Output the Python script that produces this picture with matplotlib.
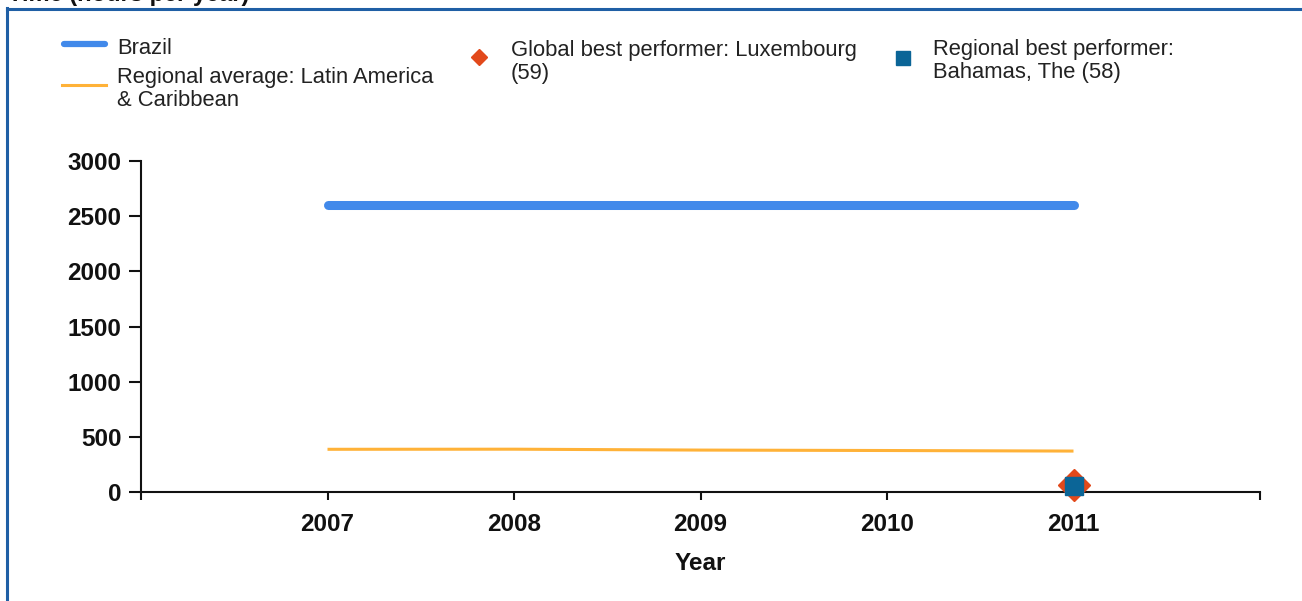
import matplotlib
matplotlib.use("Agg")
import matplotlib.pyplot as plt
from matplotlib.lines import Line2D

plt.rcParams['font.family'] = ['Liberation Sans', 'DejaVu Sans']

# ---- data ----
years = [2007, 2008, 2009, 2010, 2011]
brazil = [2600, 2600, 2600, 2600, 2600]
regional_avg = [387, 388, 380, 376, 371]
global_best_year = [2011]
global_best_value = [59]
regional_best_year = [2011]
regional_best_value = [58]
y_ticks = [0, 500, 1000, 1500, 2000, 2500, 3000]
x_ticks = [2006, 2007, 2008, 2009, 2010, 2011, 2012]
x_tick_labels = ["", "2007", "2008", "2009", "2010", "2011", ""]

labels = ["Brazil", "Regional average: Latin America\n& Caribbean",
          "Global best performer: Luxembourg\n(59)",
          "Regional best performer:\nBahamas, The (58)"]
title = "Time (hours per year)"

W, H = 1302, 601
fig = plt.figure(figsize=(W / 100, H / 100), dpi=100)

def fx(x):
    return x / W

def fy(y):
    return 1 - y / H

BLUE = '#4189ea'
ORANGE = '#ffb238'
RED = '#e2491b'
TEAL = '#0b6597'
TXT = '#222222'

ax = fig.add_axes([fx(141), fy(492), fx(1260) - fx(141), fy(161) - fy(492)])
ax.plot(years, brazil, color=BLUE, lw=6.5, solid_capstyle='round', zorder=3)
ax.plot(years, regional_avg, color=ORANGE, lw=2.2, solid_capstyle='butt', zorder=3)
ax.plot(global_best_year, global_best_value, linestyle='none', marker='D',
        ms=16, color=RED, zorder=4, clip_on=False)
ax.plot(regional_best_year, regional_best_value, linestyle='none', marker='s',
        ms=13.5, color=TEAL, zorder=5, clip_on=False)

ax.set_xlim(2006, 2012)
ax.set_ylim(0, 3000)
ax.set_xticks(x_ticks)
ax.set_xticklabels(x_tick_labels)
ax.set_yticks(y_ticks)
for s in ['top', 'right']:
    ax.spines[s].set_visible(False)
for s in ['left', 'bottom']:
    ax.spines[s].set_linewidth(1.5)
    ax.spines[s].set_color('#111111')
ax.tick_params(axis='x', direction='out', length=6, width=1.5, pad=9,
               labelsize=17.5, colors='#111111')
ax.tick_params(axis='y', direction='out', length=9, width=1.5, pad=5,
               labelsize=17.5, colors='#111111')
for lab in ax.get_xticklabels() + ax.get_yticklabels():
    lab.set_fontweight('bold')
ax.set_xlabel("Year", fontsize=17.5, fontweight='bold', labelpad=12, color='#111111')

# ---- title (cut off at top, as in the reference) ----
fig.text(fx(8), fy(1), title, fontsize=17, fontweight='bold', va='baseline',
         ha='left', color='#111111')

# ---- border ----
fig.add_artist(Line2D([fx(7), fx(7)], [fy(8), fy(H + 5)], color='#1f5fa5', lw=2.2,
                      transform=fig.transFigure))
fig.add_artist(Line2D([fx(7), fx(W + 5)], [fy(9), fy(9)], color='#1f5fa5', lw=2.2,
                      transform=fig.transFigure))

# ---- legend ----
LFS = 15.8
fig.add_artist(Line2D([fx(64), fx(105)], [fy(44), fy(44)], color=BLUE, lw=4.5,
                      solid_capstyle='round', transform=fig.transFigure))
fig.add_artist(Line2D([fx(62), fx(106)], [fy(85), fy(85)], color=ORANGE, lw=2.2,
                      transform=fig.transFigure))
fig.add_artist(Line2D([fx(479)], [fy(57)], marker='D', ms=8, color=RED,
                      linestyle='none', transform=fig.transFigure))
fig.add_artist(Line2D([fx(903)], [fy(58)], marker='s', ms=9.5, color=TEAL,
                      linestyle='none', transform=fig.transFigure))

def legend_text(x, y0, text, step=22.7):
    for i, line in enumerate(text.split("\n")):
        fig.text(fx(x), fy(y0 + i * step), line, fontsize=LFS, va='baseline',
                 ha='left', color=TXT)

legend_text(117, 54, labels[0])
legend_text(117, 83, labels[1])
legend_text(511, 56, labels[2])
legend_text(933, 55, labels[3])

fig.savefig("out.png", dpi=100)
